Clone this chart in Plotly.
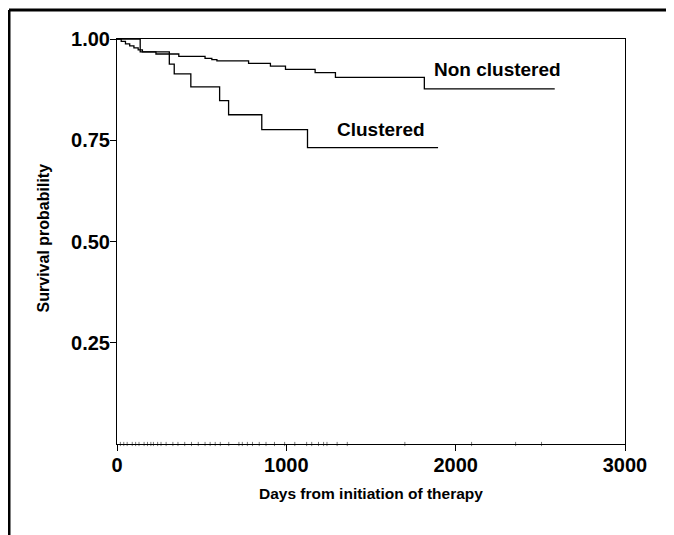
import plotly.graph_objects as go

# Kaplan-Meier step data (days, survival probability)
non_clustered_days = [0, 25, 50, 75, 100, 125, 150, 230, 365, 520, 560, 590, 777, 906, 995, 1170, 1290, 1815, 2585]
non_clustered_surv = [1.0, 0.994, 0.988, 0.983, 0.978, 0.973, 0.968, 0.963, 0.957, 0.952, 0.949, 0.946, 0.940, 0.933, 0.925, 0.917, 0.905, 0.877, 0.877]

clustered_days = [0, 137, 309, 338, 436, 606, 659, 855, 1125, 1896]
clustered_surv = [1.0, 0.968, 0.938, 0.914, 0.882, 0.848, 0.813, 0.776, 0.732, 0.732]

# censoring marks along the time axis
censor_days = [20, 40, 60, 90, 110, 130, 160, 180, 200, 215, 240, 260, 290, 330, 360, 400, 440, 480,
               520, 550, 580, 610, 660, 720, 740, 770, 800, 840, 880, 930, 990, 1050, 1120, 1150,
               1190, 1220, 1240, 1300, 1360, 1700, 2094, 2354, 2507]

x_ticks = [0, 1000, 2000, 3000]
y_ticks = [0.25, 0.50, 0.75, 1.00]
y_tick_labels = ["0.25", "0.50", "0.75", "1.00"]

FONT = "Liberation Sans, Arial, sans-serif"

fig = go.Figure()
fig.add_trace(go.Scatter(x=non_clustered_days, y=non_clustered_surv, mode="lines",
                         line=dict(shape="hv", color="black", width=1.3), showlegend=False))
fig.add_trace(go.Scatter(x=clustered_days, y=clustered_surv, mode="lines",
                         line=dict(shape="hv", color="black", width=1.3), showlegend=False))
fig.add_trace(go.Scatter(x=censor_days, y=[0] * len(censor_days), mode="markers",
                         marker=dict(symbol="line-ns", size=3, line=dict(color="#777", width=1)),
                         cliponaxis=False, showlegend=False))

fig.add_annotation(x=1860, y=0.924, text="<b>Non clustered</b>", showarrow=False,
                   xanchor="left", yanchor="middle", font=dict(family=FONT, size=19, color="black"))
fig.add_annotation(x=1285, y=0.776, text="<b>Clustered</b>", showarrow=False,
                   xanchor="left", yanchor="middle", font=dict(family=FONT, size=19, color="black"))

# axis titles
fig.add_annotation(xref="paper", yref="paper", x=0.5, y=-0.121, text="<b>Days from initiation of therapy</b>",
                   showarrow=False, xanchor="center", yanchor="middle",
                   font=dict(family=FONT, size=15.5, color="black"))
fig.add_annotation(xref="paper", yref="paper", x=-0.1457, y=0.51, text="<b>Survival probability</b>",
                   showarrow=False, textangle=-90, xanchor="center", yanchor="middle",
                   font=dict(family=FONT, size=16, color="black"))

# outer frame (left and top borders)
fig.add_shape(type="line", xref="paper", yref="paper", x0=-0.2126, x1=-0.2126, y0=-0.3, y1=1.0716,
              line=dict(color="black", width=3))
fig.add_shape(type="line", xref="paper", yref="paper", x0=-0.2126, x1=1.2, y0=1.0716, y1=1.0716,
              line=dict(color="black", width=3))

fig.update_layout(
    width=674, height=535,
    margin=dict(l=109, r=57, t=31, b=99),
    paper_bgcolor="white", plot_bgcolor="white",
    font=dict(family=FONT, color="black"),
    xaxis=dict(range=[0, 3000], tickvals=x_ticks, ticks="outside", ticklen=6, tickwidth=1,
               tickcolor="black", showline=True, linecolor="black", linewidth=1, mirror=True,
               showgrid=False, zeroline=False, ticklabelstandoff=-3,
               tickfont=dict(family=FONT, size=20, color="black", weight="bold")),
    yaxis=dict(range=[0, 1], tickvals=y_ticks, ticktext=y_tick_labels, ticks="outside", ticklen=6,
               tickwidth=1, tickcolor="black", showline=True, linecolor="black", linewidth=1,
               mirror=True, showgrid=False, zeroline=False, ticklabelstandoff=-4,
               tickfont=dict(family=FONT, size=20, color="black", weight="bold")),
)

fig.write_html("out.html")
